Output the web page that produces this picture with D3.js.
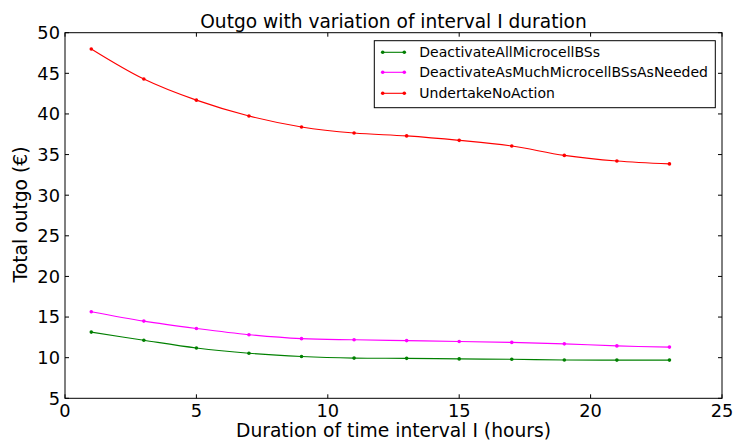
<!DOCTYPE html>
<html><head><meta charset="utf-8">
<script src="https://cdn.jsdelivr.net/npm/d3@7"></script>
<style>body{margin:0;background:#fff}svg{display:block}text{font-family:"DejaVu Sans",sans-serif;fill:#000}</style>
</head><body><svg id="c" width="733" height="443"></svg>
<script>
const xValues = [1,3,5,7,9,11,13,15,17,19,21,23];
const deactivateAll = [13.15,12.15,11.2,10.55,10.15,9.95,9.92,9.85,9.8,9.72,9.7,9.7];
const deactivateAsNeeded = [15.66,14.5,13.6,12.83,12.34,12.2,12.1,12.0,11.88,11.7,11.45,11.3];
const undertakeNoAction = [48.0,44.3,41.7,39.75,38.4,37.65,37.3,36.75,36.05,34.9,34.2,33.85];
const seriesNames = ["DeactivateAllMicrocellBSs","DeactivateAsMuchMicrocellBSsAsNeeded","UndertakeNoAction"];
const seriesColors = ["#008000","#ff00ff","#ff0000"];
const xTicks = [0,5,10,15,20,25];
const yTicks = [5,10,15,20,25,30,35,40,45,50];

const svg = d3.select("#c");
const L=65,R=722,T=32.7,B=398.3;
const x = d3.scaleLinear().domain([0,25]).range([L,R]);
const y = d3.scaleLinear().domain([5,50]).range([B,T]);

const g = svg.append("g");
xTicks.forEach(t=>{
  g.append("line").attr("x1",x(t)).attr("x2",x(t)).attr("y1",B).attr("y2",B-4).attr("stroke","#000");
  g.append("line").attr("x1",x(t)).attr("x2",x(t)).attr("y1",T).attr("y2",T+4).attr("stroke","#000");
  g.append("text").attr("x",x(t)).attr("y",B+18.5).attr("text-anchor","middle").attr("font-size",17.8).text(t);
});
yTicks.forEach(t=>{
  g.append("line").attr("x1",L).attr("x2",L+4).attr("y1",y(t)).attr("y2",y(t)).attr("stroke","#000");
  g.append("line").attr("x1",R).attr("x2",R-4).attr("y1",y(t)).attr("y2",y(t)).attr("stroke","#000");
  g.append("text").attr("x",L-5).attr("y",y(t)+6.4).attr("text-anchor","end").attr("font-size",17.8).text(t);
});

const data = [deactivateAll, deactivateAsNeeded, undertakeNoAction];
const line = d3.line().x((d,i)=>x(xValues[i])).y(d=>y(d)).curve(d3.curveCatmullRom.alpha(0.5));
data.forEach((vals,k)=>{
  svg.append("path").attr("d",line(vals)).attr("fill","none").attr("stroke",seriesColors[k]).attr("stroke-width",1.1);
  svg.selectAll(null).data(vals).enter().append("circle")
    .attr("cx",(d,i)=>x(xValues[i])).attr("cy",d=>y(d)).attr("r",1.8).attr("fill",seriesColors[k]);
});

svg.append("rect").attr("x",L).attr("y",T).attr("width",R-L).attr("height",B-T).attr("fill","none").attr("stroke","#000").attr("stroke-width",1);

svg.append("text").attr("x",(L+R)/2).attr("y",28.3).attr("text-anchor","middle").attr("font-size",18.6).text("Outgo with variation of interval I duration");
svg.append("text").attr("x",(L+R)/2).attr("y",437).attr("text-anchor","middle").attr("font-size",18.7).text("Duration of time interval I (hours)");
svg.append("text").attr("transform",`translate(26.5,${(T+B)/2 - 1}) rotate(-90)`).attr("text-anchor","middle").attr("font-size",18.7).text("Total outgo (€)");

const lg = svg.append("g");
lg.append("rect").attr("x",374.3).attr("y",40.7).attr("width",341).attr("height",67).attr("fill","#fff").attr("stroke","#000").attr("stroke-width",1);
const rowsY=[52.3,72.3,93.3];
seriesNames.forEach((n,k)=>{
  lg.append("line").attr("x1",382.7).attr("x2",404.3).attr("y1",rowsY[k]).attr("y2",rowsY[k]).attr("stroke",seriesColors[k]).attr("stroke-width",1.1);
  [382.7,404.3].forEach(cx=>lg.append("circle").attr("cx",cx).attr("cy",rowsY[k]).attr("r",1.8).attr("fill",seriesColors[k]));
  lg.append("text").attr("x",419.3).attr("y",rowsY[k]+5).attr("font-size",14).text(n);
});
</script></body></html>
